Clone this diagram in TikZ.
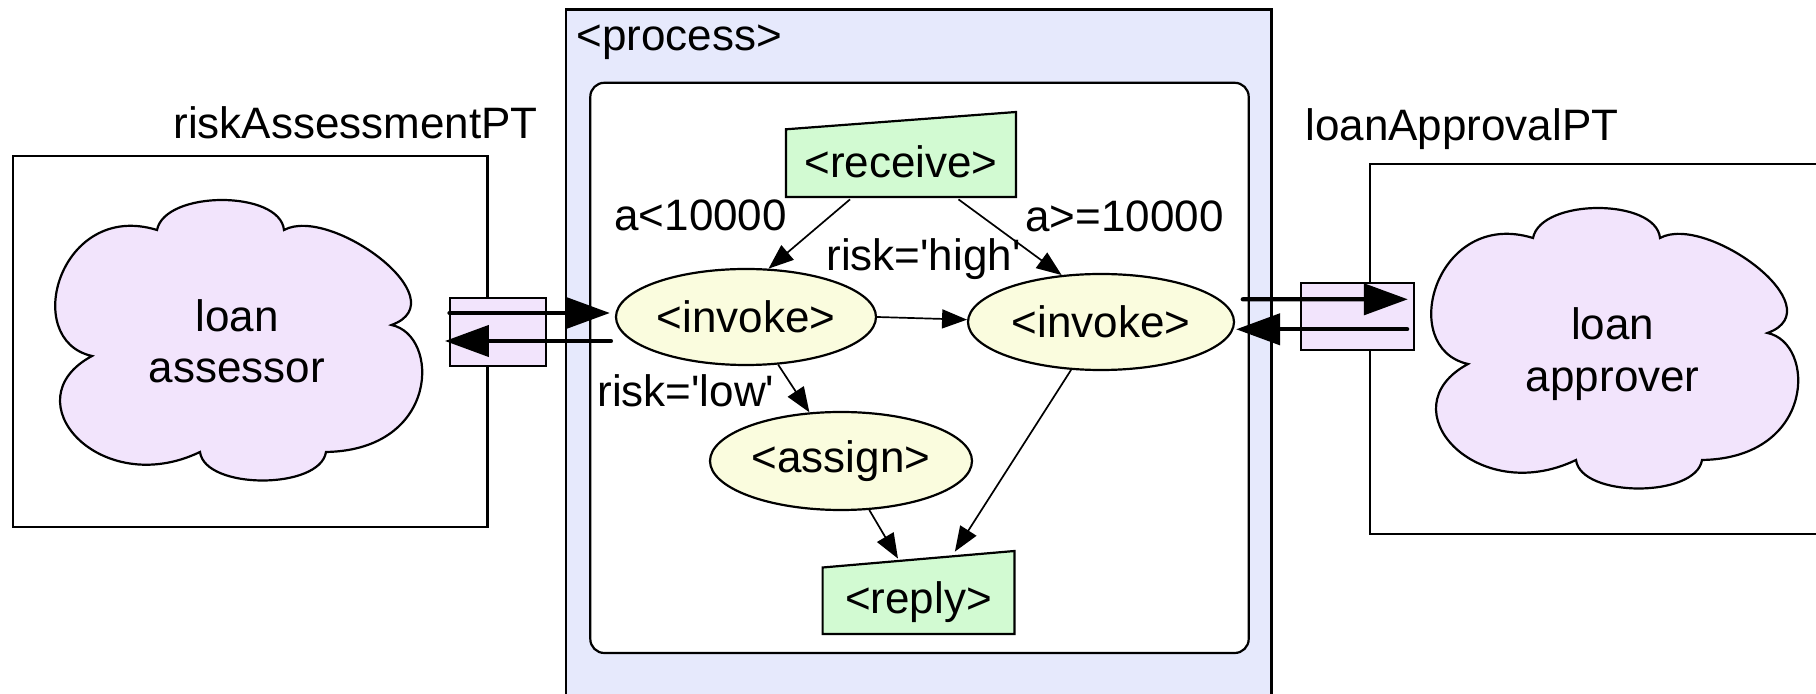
\documentclass[tikz,border=0pt]{standalone}
\usepackage{fontspec}
\setmainfont{Liberation Sans}[Ligatures=TeXOff]
\usetikzlibrary{arrows.meta,calc,shapes.geometric}
\definecolor{procfill}{RGB}{230,233,252}
\definecolor{lavfill}{RGB}{242,228,252}
\definecolor{actfill}{RGB}{210,250,210}
\definecolor{elfill}{RGB}{250,252,222}
\newcommand{\mycloudpath}{(157,230) .. controls (165,190) and (280,190) .. (284,230)
 .. controls (330,205) and (460,300) .. (391.5,325)
 .. controls (440,335) and (440,450) .. (326,452)
 .. controls (320,490) and (205,490) .. (200,452)
 .. controls (100,500) and (10,400) .. (92,356)
 .. controls (20,340) and (60,200) .. (157,230) -- cycle}
\begin{document}
\begin{tikzpicture}[x=0.5pt,y=-0.5pt,
  font=\fontsize{22}{25.5}\selectfont,
  box/.style={draw=black, line width=1.1pt},
  act/.style={draw=black, line width=1.1pt, fill=actfill},
  actnode/.style={inner sep=0pt},
  elnode/.style={ellipse, draw=black, line width=1.1pt, fill=elfill, inner sep=0pt},
  port/.style={rectangle, draw=black, line width=1.1pt, fill=lavfill, inner sep=0pt},
  cloudpath/.style={draw=black, line width=1.1pt, fill=lavfill},
  lbl/.style={inner sep=0pt, anchor=base west},
  flow/.style={draw=black, line width=0.85pt, -{Triangle[length=12.5pt,width=9.5pt]}},
  msg/.style={draw=black, line width=2.15pt, line cap=round, -{Triangle[length=22pt,width=15.5pt]}}
]
\useasboundingbox (0,0) rectangle (1816,694);
\clip (0,0) rectangle (1816,694);
% containers
\draw[box, fill=procfill] (566,9.5) rectangle (1271.5,710);
\draw[box, fill=white, rounded corners=7pt] (590.3,82.8) rectangle (1248.7,653);
\draw[box, fill=white] (12.7,155.8) rectangle (487.5,526.8);
\draw[box, fill=white] (1370,164.4) rectangle (1840,534);
% clouds
\draw[cloudpath] \mycloudpath;
\draw[cloudpath, shift={(1376,8)}] \mycloudpath;
% ports
\node[port, minimum width=48.2pt, minimum height=34pt] (portL) at (497.8,332) {};
\node[port, minimum width=56.6pt, minimum height=33.7pt] (portR) at (1357.4,316.4) {};
% activities
\draw[act] (785.9,197) -- (1016,197) -- (1016,112) -- (785.9,129.3) -- cycle;
\node[actnode, minimum width=115pt, minimum height=35.4pt] (recv) at (901,161.6) {<receive>};
\draw[act] (822.6,634) -- (1014.5,634) -- (1014.5,551) -- (822.6,567.5) -- cycle;
\node[actnode, minimum width=96pt, minimum height=32pt] (reply) at (918.5,602) {<reply>};
\node[elnode, minimum width=130pt, minimum height=48pt] (inv1) at (746,317) {<invoke>};
\node[elnode, minimum width=133pt, minimum height=48pt] (inv2) at (1101,322) {<invoke>};
\node[elnode, minimum width=131pt, minimum height=49pt] (asg) at (841,461) {<assign>};
% texts
\node[lbl] (proc) at (576,51) {<process>};
\node[lbl] (ptL) at (173,139) {riskAssessmentPT};
\node[lbl] (ptR) at (1305,141) {loanApprovalPT};
\node[lbl] (lblA) at (614,230.7) {a<10000};
\node[lbl] (lblB) at (1025,231.5) {a>=10000};
\node[lbl] (lblH) at (826,271) {risk='high'};
\node[lbl] (lblL) at (597,407) {risk='low'};
\node[lbl, anchor=base] (cLa) at (237,332) {loan};
\node[lbl, anchor=base] (cLb) at (237,383) {assessor};
\node[lbl, anchor=base] (cRa) at (1612.8,340) {loan};
\node[lbl, anchor=base] (cRb) at (1612.8,391.7) {approver};
% flow connectors
\draw[flow] ($(recv.south)+(-51,2)$) -- (inv1.65);
\draw[flow] ($(recv.south)+(57.5,2)$) -- (inv2.130);
\draw[flow] (inv1.east) -- (inv2.179);
\draw[flow] (inv1.-56) -- (asg.123.5);
\draw[flow] (asg.-60.7) -- ($(reply.north)+(-20.5,-11)$);
\draw[flow] (inv2.238) -- ($(reply.north)+(36.4,-18)$);
% message connectors
\draw[msg] ($(portL.west)+(1,-19)$) -- ($(inv1.west)+(-5,-4)$);
\draw[msg] ($(inv1.west)+(-4,24)$) -- ($(portL.west)+(-3.6,9)$);
\draw[msg] ($(inv2.east)+(7.7,-22.7)$) -- ($(portR.east)+(-7.3,-17.1)$);
\draw[msg] ($(portR.east)+(-8,12.9)$) -- ($(inv2.east)+(1,7.3)$);
\end{tikzpicture}
\end{document}
